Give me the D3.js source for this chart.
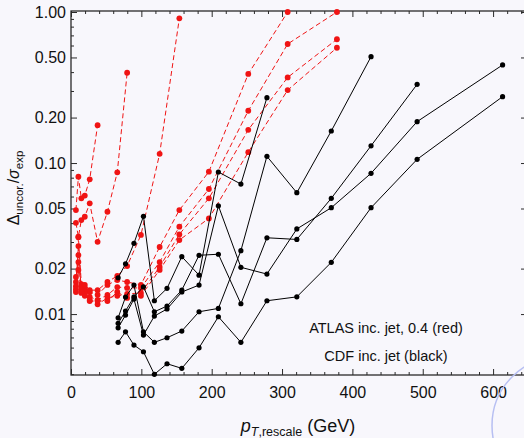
<!DOCTYPE html>
<html>
<head>
<meta charset="utf-8">
<script src="https://cdn.jsdelivr.net/npm/d3@7"></script>
<style>
  html, body { margin: 0; padding: 0; background: #f8f7fc; }
  svg { display: block; }
  text { font-family: "Liberation Sans", Arial, sans-serif; fill: #111; }
</style>
</head>
<body>
<svg id="chart" width="524" height="438"></svg>
<script>
// CDF inclusive jet: rescaled pT bin centres (GeV) and the five rapidity-bin series
const cdfPt = [67, 77.5, 89.5, 103, 118.5, 136.5, 157.5, 182, 209.5, 241.5, 278.5, 321, 370, 426.5, 492, 613.5];
const cdfA = [0.0174, 0.0215, 0.0294, 0.0444, 0.01225, 0.0148, 0.0240, 0.0181, 0.0872, 0.0726, 0.271];
const cdfB = [0.00945, 0.01296, 0.01556, 0.00763, 0.0065, 0.00697, 0.00772, 0.01036, 0.0109, 0.0263, 0.1108, 0.0636, 0.163, 0.506];
const cdfC = [0.00868, 0.01047, 0.0130, 0.01516, 0.01036, 0.0113, 0.01442, 0.0245, 0.0249, 0.0117, 0.0320, 0.0312, 0.0584, 0.130, 0.332];
const cdfD = [0.00811, 0.00985, 0.01257, 0.00726, 0.0097, 0.0108, 0.0140, 0.01556, 0.0521, 0.0204, 0.0184, 0.0366, 0.0506, 0.0855, 0.188, 0.446];
const cdfE = [0.0065, 0.00763, 0.00623, 0.00563, 0.00399, 0.00469, 0.00437, 0.00598, 0.0096, 0.0065, 0.01225, 0.0130, 0.0220, 0.0506, 0.1058, 0.275];

// ATLAS inclusive jet, R = 0.4: rescaled pT bin centres (GeV) and seven rapidity-bin series
const atlasPt = [7.0, 10.5, 14.7, 19.6, 26.6, 37.8, 51.8, 65.8, 79.8, 99.4, 126, 154, 196, 252, 308, 378];
const atlas1 = [0.0176, 0.0221, 0.0153, 0.0149, 0.0140, 0.0134, 0.0156, 0.0168, 0.0163, 0.0156, 0.0278, 0.0488, 0.0876, 0.389, 1.0];
const atlas2 = [0.0163, 0.0246, 0.0146, 0.0142, 0.0130, 0.0124, 0.0134, 0.0151, 0.0149, 0.0149, 0.0221, 0.0379, 0.0673, 0.222, 0.614, 1.0];
const atlas3 = [0.0153, 0.0282, 0.0140, 0.0136, 0.0124, 0.0116, 0.0128, 0.0132, 0.0136, 0.0138, 0.0205, 0.0337, 0.0584, 0.166, 0.369, 0.660];
const atlas4 = [0.0140, 0.0196, 0.0138, 0.0132, 0.0122, 0.0122, 0.0122, 0.0140, 0.0128, 0.0132, 0.0196, 0.0309, 0.0430, 0.118, 0.304, 0.580];
const atlas5 = [0.0146, 0.0323, 0.0158, 0.0156, 0.0144, 0.0144, 0.0163, 0.0179, 0.0208, 0.0334, 0.115, 0.908];
const atlas6 = [0.0402, 0.0325, 0.0419, 0.0441, 0.0541, 0.0301, 0.0476, 0.0868, 0.396];
const atlas7 = [0.0488, 0.0812, 0.0584, 0.0609, 0.0780, 0.178];

// Axis ticks
const xMajorTicks = [0, 100, 200, 300, 400, 500, 600];
const xTickLabels = ["0", "100", "200", "300", "400", "500", "600"];
const yMajorTicks = [0.01, 0.02, 0.05, 0.1, 0.2, 0.5, 1.0];
const yTickLabels = ["0.01", "0.02", "0.05", "0.10", "0.20", "0.50", "1.00"];

const cdfSeries = [cdfA, cdfB, cdfC, cdfD, cdfE];
const atlasSeries = [atlas1, atlas2, atlas3, atlas4, atlas5, atlas6, atlas7];

const svg = d3.select("#chart");
const W = 524, H = 438;
const plot = { left: 71, right: 527, top: 11, bottom: 375 };

svg.append("rect").attr("width", W).attr("height", H).attr("fill", "#f8f7fc");

const x = d3.scaleLinear().domain([0, 648.2]).range([plot.left, plot.right]);
const y = d3.scaleLog().domain([0.00395, 1.0154]).range([plot.bottom, plot.top]);

// Minor ticks
const xMinor = d3.range(0, 648, 20).filter(v => v % 100 !== 0);
const yMinor = [];
[0.001, 0.01, 0.1].forEach(dec => {
  for (let k = 2; k <= 9; k++) {
    const v = dec * k;
    if (v >= 0.00395 && v <= 1.0154 && !yMajorTicks.some(m => Math.abs(m - v) < 1e-9)) yMinor.push(v);
  }
});

const axisColor = "#2a2a2a";

// Frame lines
svg.append("rect")
  .attr("x", plot.left).attr("y", plot.top)
  .attr("width", plot.right - plot.left).attr("height", plot.bottom - plot.top)
  .attr("fill", "none").attr("stroke", axisColor).attr("stroke-width", 1.3);

function tickGroup(axis, tx, ty) {
  const g = svg.append("g").attr("transform", `translate(${tx},${ty})`).call(axis);
  g.select(".domain").remove();
  g.selectAll(".tick line").attr("stroke", axisColor);
  return g;
}

// Bottom & top axes with inward ticks
const gxb = tickGroup(d3.axisBottom(x).tickValues(xMajorTicks).tickSize(-6)
  .tickFormat((d, i) => xTickLabels[i]).tickPadding(12), 0, plot.bottom);
gxb.selectAll("text").style("font-size", "16px").attr("fill", "#111");
tickGroup(d3.axisBottom(x).tickValues(xMinor).tickSize(-3).tickFormat(""), 0, plot.bottom);
tickGroup(d3.axisTop(x).tickValues(xMajorTicks).tickSize(-6).tickFormat(""), 0, plot.top);
tickGroup(d3.axisTop(x).tickValues(xMinor).tickSize(-3).tickFormat(""), 0, plot.top);

// Left & right axes
const gyl = tickGroup(d3.axisLeft(y).tickValues(yMajorTicks).tickSize(-6)
  .tickFormat((d, i) => yTickLabels[i]).tickPadding(5), plot.left, 0);
gyl.selectAll("text").style("font-size", "16px").attr("fill", "#111");
tickGroup(d3.axisLeft(y).tickValues(yMinor).tickSize(-3).tickFormat(""), plot.left, 0);
tickGroup(d3.axisRight(y).tickValues(yMajorTicks).tickSize(-6).tickFormat(""), plot.right, 0);
tickGroup(d3.axisRight(y).tickValues(yMinor).tickSize(-3).tickFormat(""), plot.right, 0);

// Series drawing
const line = d3.line().x(d => x(d[0])).y(d => y(d[1]));
const pairs = (xs, ys) => ys.map((v, i) => [xs[i], v]);

const atlasG = svg.append("g");
atlasSeries.forEach(s => {
  const pts = pairs(atlasPt, s);
  atlasG.append("path").attr("d", line(pts))
    .attr("fill", "none").attr("stroke", "#f01414").attr("stroke-width", 1)
    .attr("stroke-dasharray", "5,3");
  atlasG.selectAll(null).data(pts).enter().append("circle")
    .attr("cx", d => x(d[0])).attr("cy", d => y(d[1])).attr("r", 2.9)
    .attr("fill", "#f01414");
});

const cdfG = svg.append("g");
cdfSeries.forEach(s => {
  const pts = pairs(cdfPt, s);
  cdfG.append("path").attr("d", line(pts))
    .attr("fill", "none").attr("stroke", "#000").attr("stroke-width", 1);
  cdfG.selectAll(null).data(pts).enter().append("circle")
    .attr("cx", d => x(d[0])).attr("cy", d => y(d[1])).attr("r", 2.6)
    .attr("fill", "#000");
});

// Legend notes
svg.append("text").attr("x", 386).attr("y", 333).attr("text-anchor", "middle")
  .style("font-size", "14.5px").text("ATLAS inc. jet, 0.4 (red)");
svg.append("text").attr("x", 386).attr("y", 361).attr("text-anchor", "middle")
  .style("font-size", "14.5px").text("CDF inc. jet (black)");

// Axis titles
const xt = svg.append("text").attr("x", 298).attr("y", 432).attr("text-anchor", "middle")
  .style("font-size", "18px");
xt.append("tspan").style("font-style", "italic").text("p");
xt.append("tspan").attr("dy", 4).style("font-size", "12.5px").style("font-style", "italic").text("T");
xt.append("tspan").style("font-size", "12.5px").text(",rescale");
xt.append("tspan").attr("dy", -4).text(" (GeV)");

const yt = svg.append("text").attr("transform", "translate(19,188) rotate(-90)")
  .attr("text-anchor", "middle").style("font-size", "16px");
yt.append("tspan").text("\u0394");
yt.append("tspan").attr("dy", 4).style("font-size", "11.5px").text("uncor.");
yt.append("tspan").attr("dy", -4).text("/");
yt.append("tspan").style("font-style", "italic").text("\u03c3");
yt.append("tspan").attr("dy", 4).style("font-size", "11.5px").text("exp");

// Decorative arc in the lower-right corner
svg.append("circle").attr("cx", 561).attr("cy", 425.5).attr("r", 69)
  .attr("fill", "none").attr("stroke", "#b7bff2").attr("stroke-width", 1.5);
</script>
</body>
</html>
